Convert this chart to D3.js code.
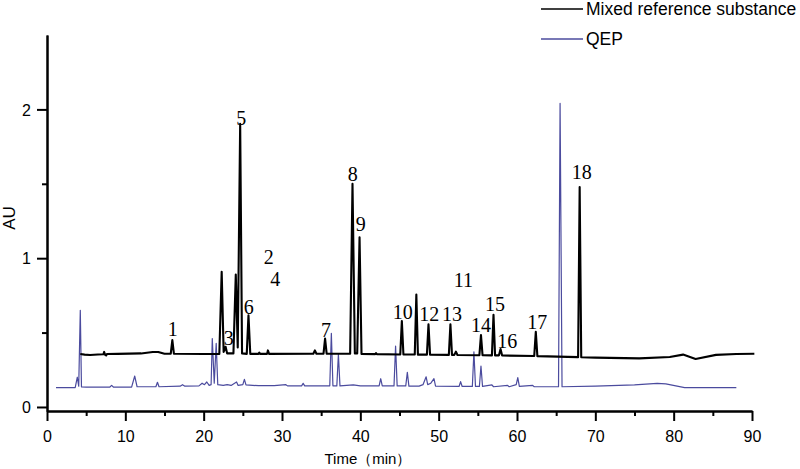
<!DOCTYPE html>
<html><head><meta charset="utf-8">
<script src="https://cdn.jsdelivr.net/npm/d3@7"></script>
<style>
body{margin:0;background:#fff;}
svg{display:block;font-family:"Liberation Sans",Arial,sans-serif;}
</style></head>
<body><svg id="chart" width="800" height="469"></svg>
<script>
// ---- data ----
const seriesNames = ["Mixed reference substance", "QEP"];
const xTicks = [0,10,20,30,40,50,60,70,80,90];
const yTicks = [0,1,2];
const mixedTrace = [[4.25,0.356],[4.8,0.352],[5.5,0.349],[6.5,0.353],[7.2,0.354],[7.3,0.37],[7.4,0.352],[7.55,0.346],[7.65,0.356],[9,0.357],[12,0.36],[13.5,0.37],[14.2,0.37],[15,0.358],[15.8,0.358],[16.0,0.45],[16.2,0.358],[20,0.356],[22.0,0.357],[22.3,0.908],[22.55,0.37],[22.8,0.405],[23.0,0.36],[23.8,0.36],[24.1,0.89],[24.35,0.4],[24.66,1.904],[24.9,0.36],[25.5,0.357],[25.72,0.617],[25.95,0.357],[27.0,0.357],[27.1,0.365],[27.2,0.357],[28.1,0.357],[28.2,0.38],[28.35,0.357],[34.0,0.358],[34.2,0.38],[34.4,0.358],[35.3,0.358],[35.5,0.46],[35.7,0.358],[38.7,0.358],[39.0,1.50],[39.3,0.36],[39.6,0.36],[39.9,1.14],[40.15,0.356],[41.9,0.355],[42.0,0.362],[42.1,0.355],[45.1,0.353],[45.3,0.577],[45.5,0.353],[46.95,0.353],[47.15,0.756],[47.35,0.352],[48.5,0.352],[48.7,0.555],[48.9,0.352],[51.3,0.35],[51.5,0.555],[51.7,0.35],[52.0,0.35],[52.2,0.372],[52.4,0.349],[55.2,0.348],[55.4,0.483],[55.6,0.348],[56.8,0.347],[57.0,0.62],[57.2,0.347],[57.7,0.347],[57.9,0.39],[58.1,0.346],[62.2,0.343],[62.4,0.505],[62.6,0.342],[67.8,0.335],[68.0,1.478],[68.2,0.334],[70,0.332],[75.6,0.327],[79.5,0.336],[81.2,0.352],[82.8,0.323],[85.4,0.35],[88,0.356],[90.3,0.358]];
const qepTrace = [[1.15,0.13],[3.6,0.13],[3.87,0.2],[4.05,0.14],[4.25,0.65],[4.4,0.135],[5,0.133],[8.0,0.133],[8.25,0.145],[8.5,0.133],[10.8,0.133],[11.2,0.208],[11.5,0.136],[13.9,0.136],[14.1,0.166],[14.3,0.136],[17,0.14],[17.3,0.15],[17.6,0.14],[19.4,0.142],[19.8,0.16],[20.1,0.15],[20.4,0.168],[20.7,0.145],[20.95,0.15],[21.1,0.46],[21.35,0.16],[21.6,0.427],[21.8,0.15],[22.5,0.145],[23.0,0.15],[23.5,0.145],[24.2,0.168],[24.4,0.145],[25.0,0.15],[25.2,0.186],[25.4,0.148],[27,0.143],[29,0.143],[30.5,0.15],[30.7,0.142],[32.5,0.142],[32.7,0.159],[32.9,0.142],[36.1,0.142],[36.3,0.495],[36.5,0.142],[37.0,0.142],[37.2,0.354],[37.4,0.142],[39.1,0.148],[40,0.142],[42.4,0.142],[42.6,0.19],[42.8,0.142],[44.3,0.142],[44.5,0.41],[44.7,0.142],[45.8,0.142],[46.0,0.233],[46.2,0.14],[47.5,0.14],[48.0,0.15],[48.4,0.203],[48.6,0.15],[49.0,0.16],[49.4,0.19],[49.6,0.14],[52.6,0.138],[52.8,0.17],[53.0,0.138],[54.3,0.138],[54.5,0.371],[54.7,0.138],[55.2,0.138],[55.4,0.275],[55.6,0.138],[56.8,0.148],[57,0.136],[58.8,0.145],[59.0,0.136],[59.9,0.15],[60.1,0.197],[60.3,0.138],[62.0,0.145],[62.2,0.136],[65.3,0.136],[65.5,2.04],[65.75,0.136],[70,0.14],[75,0.148],[77.9,0.159],[79,0.155],[81.4,0.13],[88,0.13]];
const peakLabels = ["1","2","3","4","5","6","7","8","9","10","11","12","13","14","15","16","17","18"];
const labelTimes = [16.05,28.3,23.2,29.15,24.8,25.75,35.62,39.03,40.05,45.41,53.15,48.81,51.7,55.41,57.19,58.76,62.59,68.26];
const labelAU = [0.523,1.007,0.462,0.863,1.942,0.675,0.518,1.567,1.231,0.641,0.854,0.623,0.623,0.551,0.693,0.446,0.570,1.576];

// ---- drawing ----
const svg = d3.select("#chart");
const x = d3.scaleLinear().domain([0,90]).range([47,752]);
const y = d3.scaleLinear().domain([-0.027,2.5]).range([411,35]);
const colors = ["#000000","#4b4b9e"];

const line = d3.line().x(d=>x(d[0])).y(d=>y(d[1]));
svg.append("path").datum(qepTrace).attr("d",line).attr("fill","none")
  .attr("stroke",colors[1]).attr("stroke-width",1.2).attr("stroke-linejoin","round");
svg.append("path").datum(mixedTrace).attr("d",line).attr("fill","none")
  .attr("stroke",colors[0]).attr("stroke-width",2.1).attr("stroke-linejoin","round");

// axes
const xAxis = svg.append("g").attr("transform","translate(0,411)")
  .call(d3.axisBottom(x).tickValues(xTicks).tickSize(10).tickSizeOuter(0).tickFormat(d3.format("d")));
const xMinor = svg.append("g").attr("transform","translate(0,411)")
  .call(d3.axisBottom(x).tickValues(d3.range(5,90,10)).tickSize(5).tickSizeOuter(0).tickFormat(""));
const yAxis = svg.append("g").attr("transform","translate(47,0)")
  .call(d3.axisLeft(y).tickValues(yTicks).tickSize(10).tickSizeOuter(0).tickFormat(d3.format("d")));
const yMinor = svg.append("g").attr("transform","translate(47,0)")
  .call(d3.axisLeft(y).tickValues([0.5,1.5]).tickSize(5).tickSizeOuter(0).tickFormat(""));
[xAxis,xMinor,yAxis,yMinor].forEach(g=>{
  g.selectAll("path,line").attr("stroke","#000").attr("stroke-width",2);
  g.selectAll("text").attr("font-size",16).attr("fill","#000").attr("font-family","Liberation Sans, Arial, sans-serif");
});
xAxis.selectAll("text").attr("y",31).attr("dy",0);
yAxis.selectAll("text").attr("x",-16).attr("dy","0.36em");

svg.append("text").attr("x",368).attr("y",464).attr("text-anchor","middle")
  .attr("font-size",15).text("Time（min）");
svg.append("text").attr("transform","translate(15,218) rotate(-90)").attr("text-anchor","middle")
  .attr("font-size",17).text("AU");

// peak labels
svg.append("g").selectAll("text").data(peakLabels).join("text")
  .attr("x",(d,i)=>x(labelTimes[i])).attr("y",(d,i)=>y(labelAU[i]))
  .attr("text-anchor","middle").attr("dominant-baseline","central")
  .attr("font-family","Liberation Serif, 'Times New Roman', serif").attr("font-size",20)
  .text(d=>d);

// legend
const leg = svg.append("g");
seriesNames.forEach((n,i)=>{
  const yy = 9 + i*30;
  leg.append("line").attr("x1",541).attr("x2",583).attr("y1",yy).attr("y2",yy)
    .attr("stroke",colors[i]).attr("stroke-width",1.3);
  leg.append("text").attr("x",586).attr("y",yy).attr("dominant-baseline","central")
    .attr("font-size",17.5).text(n);
});
</script></body></html>
